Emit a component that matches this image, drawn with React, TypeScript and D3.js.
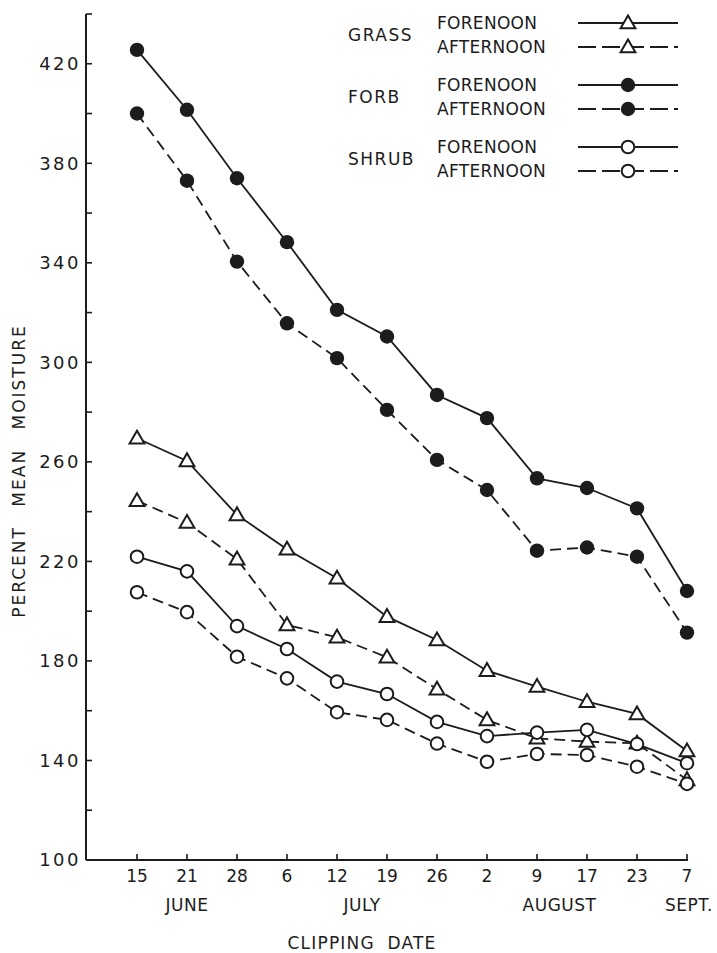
import React, { useEffect, useRef } from "react";
import * as d3 from "d3";

const clipDates = ["15", "21", "28", "6", "12", "19", "26", "2", "9", "17", "23", "7"];
const monthNames = ["JUNE", "JULY", "AUGUST", "SEPT."];

const grassForenoon = [269.5, 260.4, 238.7, 224.9, 213.2, 197.8, 188.4, 176.1, 169.7, 163.6, 158.7, 143.8];
const grassAfternoon = [244.4, 235.6, 220.9, 194.5, 189.5, 181.5, 168.6, 156.3, 148.9, 147.6, 146.9, 132.2];
const forbForenoon = [425.6, 401.5, 374, 348.3, 321.1, 310.4, 286.9, 277.6, 253.4, 249.5, 241.3, 208.1];
const forbAfternoon = [400, 373, 340.5, 315.7, 301.7, 280.9, 260.8, 248.7, 224.3, 225.6, 221.9, 191.4];
const shrubForenoon = [221.9, 216, 194, 184.8, 171.7, 166.7, 155.5, 149.8, 151.2, 152.3, 146.6, 138.9];
const shrubAfternoon = [207.6, 199.6, 181.7, 173, 159.4, 156.3, 146.8, 139.5, 142.6, 142.2, 137.5, 130.6];

const speciesNames = ["GRASS", "FORB", "SHRUB"];
const periodNames = ["FORENOON", "AFTERNOON"];

const yTicks = d3.range(100, 441, 20);
const yLabels = d3.range(100, 421, 40);

const INK = "#1c1c1c";
const FONT = "'DejaVu Sans', sans-serif";

type Marker = "triangle" | "filled" | "open";

const series: { values: number[]; marker: Marker; dashed: boolean }[] = [
    { values: grassForenoon, marker: "triangle", dashed: false },
    { values: grassAfternoon, marker: "triangle", dashed: true },
    { values: forbForenoon, marker: "filled", dashed: false },
    { values: forbAfternoon, marker: "filled", dashed: true },
    { values: shrubForenoon, marker: "open", dashed: false },
    { values: shrubAfternoon, marker: "open", dashed: true },
];

const W = 717;
const H = 953;

function drawMarker(g: d3.Selection<SVGGElement, unknown, null, undefined>, kind: Marker, x: number, y: number) {
    if (kind === "triangle") {
        g.append("path")
            .attr("d", d3.symbol().type(d3.symbolTriangle).size(95)())
            .attr("transform", `translate(${x},${y + 1})`)
            .attr("fill", "white")
            .attr("stroke", INK)
            .attr("stroke-width", 2);
    } else if (kind === "filled") {
        g.append("circle").attr("cx", x).attr("cy", y).attr("r", 7.2).attr("fill", INK);
    } else {
        g.append("circle")
            .attr("cx", x).attr("cy", y).attr("r", 6.3)
            .attr("fill", "white").attr("stroke", INK).attr("stroke-width", 2);
    }
}

const MoistureChart = () => {
    const svgRef = useRef<SVGSVGElement>(null);

    useEffect(() => {
        const svg = d3.select(svgRef.current);
        svg.selectAll("*").remove();

        const left = 86;
        const bottom = 860;

        const x = d3.scalePoint<string>().domain(clipDates).range([137, 687]);
        const y = d3.scaleLinear().domain([100, 440]).range([bottom, 14]);

        const root = svg.append("g");

        // y axis
        root.append("line")
            .attr("x1", left).attr("x2", left)
            .attr("y1", y(100)).attr("y2", y(440))
            .attr("stroke", INK).attr("stroke-width", 2);
        root.selectAll(".ytick")
            .data(yTicks)
            .enter()
            .append("line")
            .attr("x1", left).attr("x2", left + 6)
            .attr("y1", (d) => y(d)).attr("y2", (d) => y(d))
            .attr("stroke", INK).attr("stroke-width", 1.6);
        root.selectAll(".ylab")
            .data(yLabels)
            .enter()
            .append("text")
            .attr("x", 81)
            .attr("y", (d) => y(d))
            .attr("dy", "0.36em")
            .attr("text-anchor", "end")
            .attr("font-family", FONT)
            .attr("font-size", 18)
            .attr("letter-spacing", 2.5)
            .attr("fill", INK)
            .text((d) => d);

        // x axis
        root.append("line")
            .attr("x1", left).attr("x2", x(clipDates[clipDates.length - 1])! + 1)
            .attr("y1", bottom).attr("y2", bottom)
            .attr("stroke", INK).attr("stroke-width", 2);
        root.selectAll(".xtick")
            .data(clipDates)
            .enter()
            .append("line")
            .attr("x1", (d) => x(d)!).attr("x2", (d) => x(d)!)
            .attr("y1", bottom).attr("y2", bottom - 6)
            .attr("stroke", INK).attr("stroke-width", 1.6);
        root.selectAll(".xlab")
            .data(clipDates)
            .enter()
            .append("text")
            .attr("x", (d) => x(d)!)
            .attr("y", 876)
            .attr("dy", "0.36em")
            .attr("text-anchor", "middle")
            .attr("font-family", FONT)
            .attr("font-size", 17)
            .attr("fill", INK)
            .text((d) => d);

        // month labels sit under their date groups
        const step = x.step();
        const monthAt = [x("21")!, (x("12")! + x("19")!) / 2, x("9")! + step * 0.45, x("7")! + 2];
        root.selectAll(".month")
            .data(monthNames)
            .enter()
            .append("text")
            .attr("x", (d, i) => monthAt[i])
            .attr("y", 905)
            .attr("dy", "0.36em")
            .attr("text-anchor", "middle")
            .attr("font-family", FONT)
            .attr("font-size", 17)
            .attr("letter-spacing", 0.5)
            .attr("fill", INK)
            .text((d) => d);

        root.append("text")
            .attr("x", (x("12")! + x("19")!) / 2)
            .attr("y", 943)
            .attr("dy", "0.36em")
            .attr("text-anchor", "middle")
            .attr("font-family", FONT)
            .attr("font-size", 17)
            .attr("letter-spacing", 1.2)
            .attr("word-spacing", 6)
            .attr("fill", INK)
            .text("CLIPPING DATE");

        root.append("text")
            .attr("transform", `translate(19,471) rotate(-90)`)
            .attr("dy", "0.36em")
            .attr("text-anchor", "middle")
            .attr("font-family", FONT)
            .attr("font-size", 17)
            .attr("letter-spacing", 2)
            .attr("word-spacing", 12)
            .attr("fill", INK)
            .text("PERCENT MEAN MOISTURE");

        // series lines
        const line = d3.line<number>()
            .x((d, i) => x(clipDates[i])!)
            .y((d) => y(d));

        series.forEach((s) => {
            root.append("path")
                .attr("d", line(s.values))
                .attr("fill", "none")
                .attr("stroke", INK)
                .attr("stroke-width", 1.8)
                .attr("stroke-dasharray", s.dashed ? "11,6" : null);
        });
        series.forEach((s) => {
            const g = root.append("g");
            s.values.forEach((v, i) => drawMarker(g, s.marker, x(clipDates[i])!, y(v)));
        });

        // legend
        const legend = root.append("g");
        speciesNames.forEach((name, gi) => {
            const top = 23 + gi * 62;
            legend.append("text")
                .attr("x", 348).attr("y", top + 12).attr("dy", "0.36em")
                .attr("font-family", FONT).attr("font-size", 17).attr("letter-spacing", 1.5)
                .attr("fill", INK).text(name);
            periodNames.forEach((p, pi) => {
                const s = series[gi * 2 + pi];
                const ry = top + pi * 24;
                legend.append("text")
                    .attr("x", 437).attr("y", ry).attr("dy", "0.36em")
                    .attr("font-family", FONT).attr("font-size", 17).attr("letter-spacing", 0.3)
                    .attr("fill", INK).text(p);
                legend.append("line")
                    .attr("x1", 578).attr("x2", 678).attr("y1", ry).attr("y2", ry)
                    .attr("stroke", INK).attr("stroke-width", 1.8)
                    .attr("stroke-dasharray", s.dashed ? "18,6" : null);
                drawMarker(legend.append("g"), s.marker, 628, ry);
            });
        });
    }, []);

    return (
        <svg
            ref={svgRef}
            width={W}
            height={H}
            style={{ position: "absolute", left: 0, top: 0, background: "white" }}
        />
    );
};

export default function App() {
    return <MoistureChart />;
}
